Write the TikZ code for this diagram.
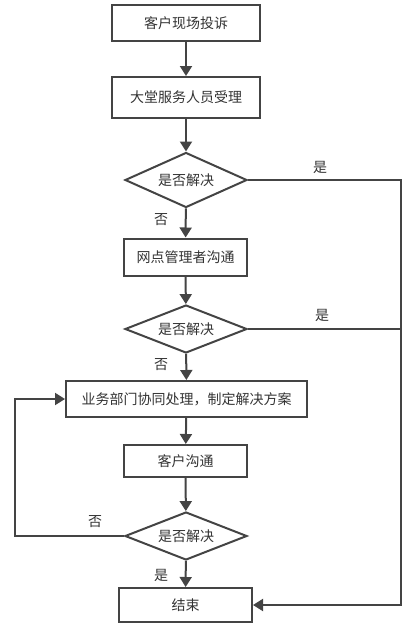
\documentclass[tikz,border=0pt]{standalone}
\usepackage{fontspec}
\newfontfamily\cjk{Noto Sans CJK SC}
\usetikzlibrary{shapes.geometric,arrows.meta}
\definecolor{ln}{HTML}{444444}
\definecolor{tx}{HTML}{333333}
\begin{document}
\begin{tikzpicture}[x=0.75pt,y=-0.75pt,
  every node/.style={font=\cjk\fontsize{10.5}{12}\selectfont,text=tx,inner sep=0pt},
  box/.style={draw=ln,line width=1.5pt,minimum width=#1},
  dia/.style={diamond,draw=ln,line width=1.5pt,aspect=2.2,minimum width=91.5pt},
  conn/.style={draw=ln,line width=1.5pt},
  arr/.style={conn,-{Triangle[length=7.5pt,width=9pt]}},
  lbl/.style={}]
\useasboundingbox (0,0) rectangle (415,625);
\node[box=111pt,minimum height=27pt] (b1) at (186,23) {客户现场投诉};
\node[box=111pt,minimum height=30.75pt] (b2) at (186,97.5) {大堂服务人员受理};
\node[dia,minimum height=41.25pt] (d1) at (186,180) {是否解决};
\node[box=92.25pt,minimum height=27.75pt] (b3) at (185.5,257) {网点管理者沟通};
\node[dia,minimum height=36pt] (d2) at (186,329) {是否解决};
\node[box=180.75pt,minimum height=27pt] (b4) at (186.5,399) {业务部门协同处理，制定解决方案};
\node[box=92.25pt,minimum height=24pt] (b5) at (185.5,461) {客户沟通};
\node[dia,minimum height=36pt] (d3) at (186,536) {是否解决};
\node[box=99.75pt,minimum height=25.5pt] (b6) at (185.5,605) {结束};
\coordinate (r1) at (401,180);
\coordinate (r2) at (401,329);
\coordinate (r3) at (401,605);
\coordinate (l1) at (15,536);
\coordinate (l2) at (15,399);
\draw[arr] (b1) -- (b2);
\draw[arr] (b2) -- (d1);
\draw[arr] (d1) -- (b3);
\draw[arr] (b3) -- (d2);
\draw[arr] (d2) -- (b4);
\draw[arr] (b4) -- (b5);
\draw[arr] (b5) -- (d3);
\draw[arr] (d3) -- (b6);
\draw[conn] (d1.east) -- (r1) -- (r2);
\draw[conn] (d2.east) -- (r2);
\draw[arr] (r2) -- (r3) -- (b6.east);
\draw[arr] (d3.west) -- (l1) -- (l2) -- (b4.west);
\node (y1) at (320,167) {是};
\node (y2) at (322,315) {是};
\node (n1) at (161,220) {否};
\node (n2) at (161,365) {否};
\node (n3) at (95,522) {否};
\node (y3) at (161,575) {是};
\end{tikzpicture}
\end{document}
